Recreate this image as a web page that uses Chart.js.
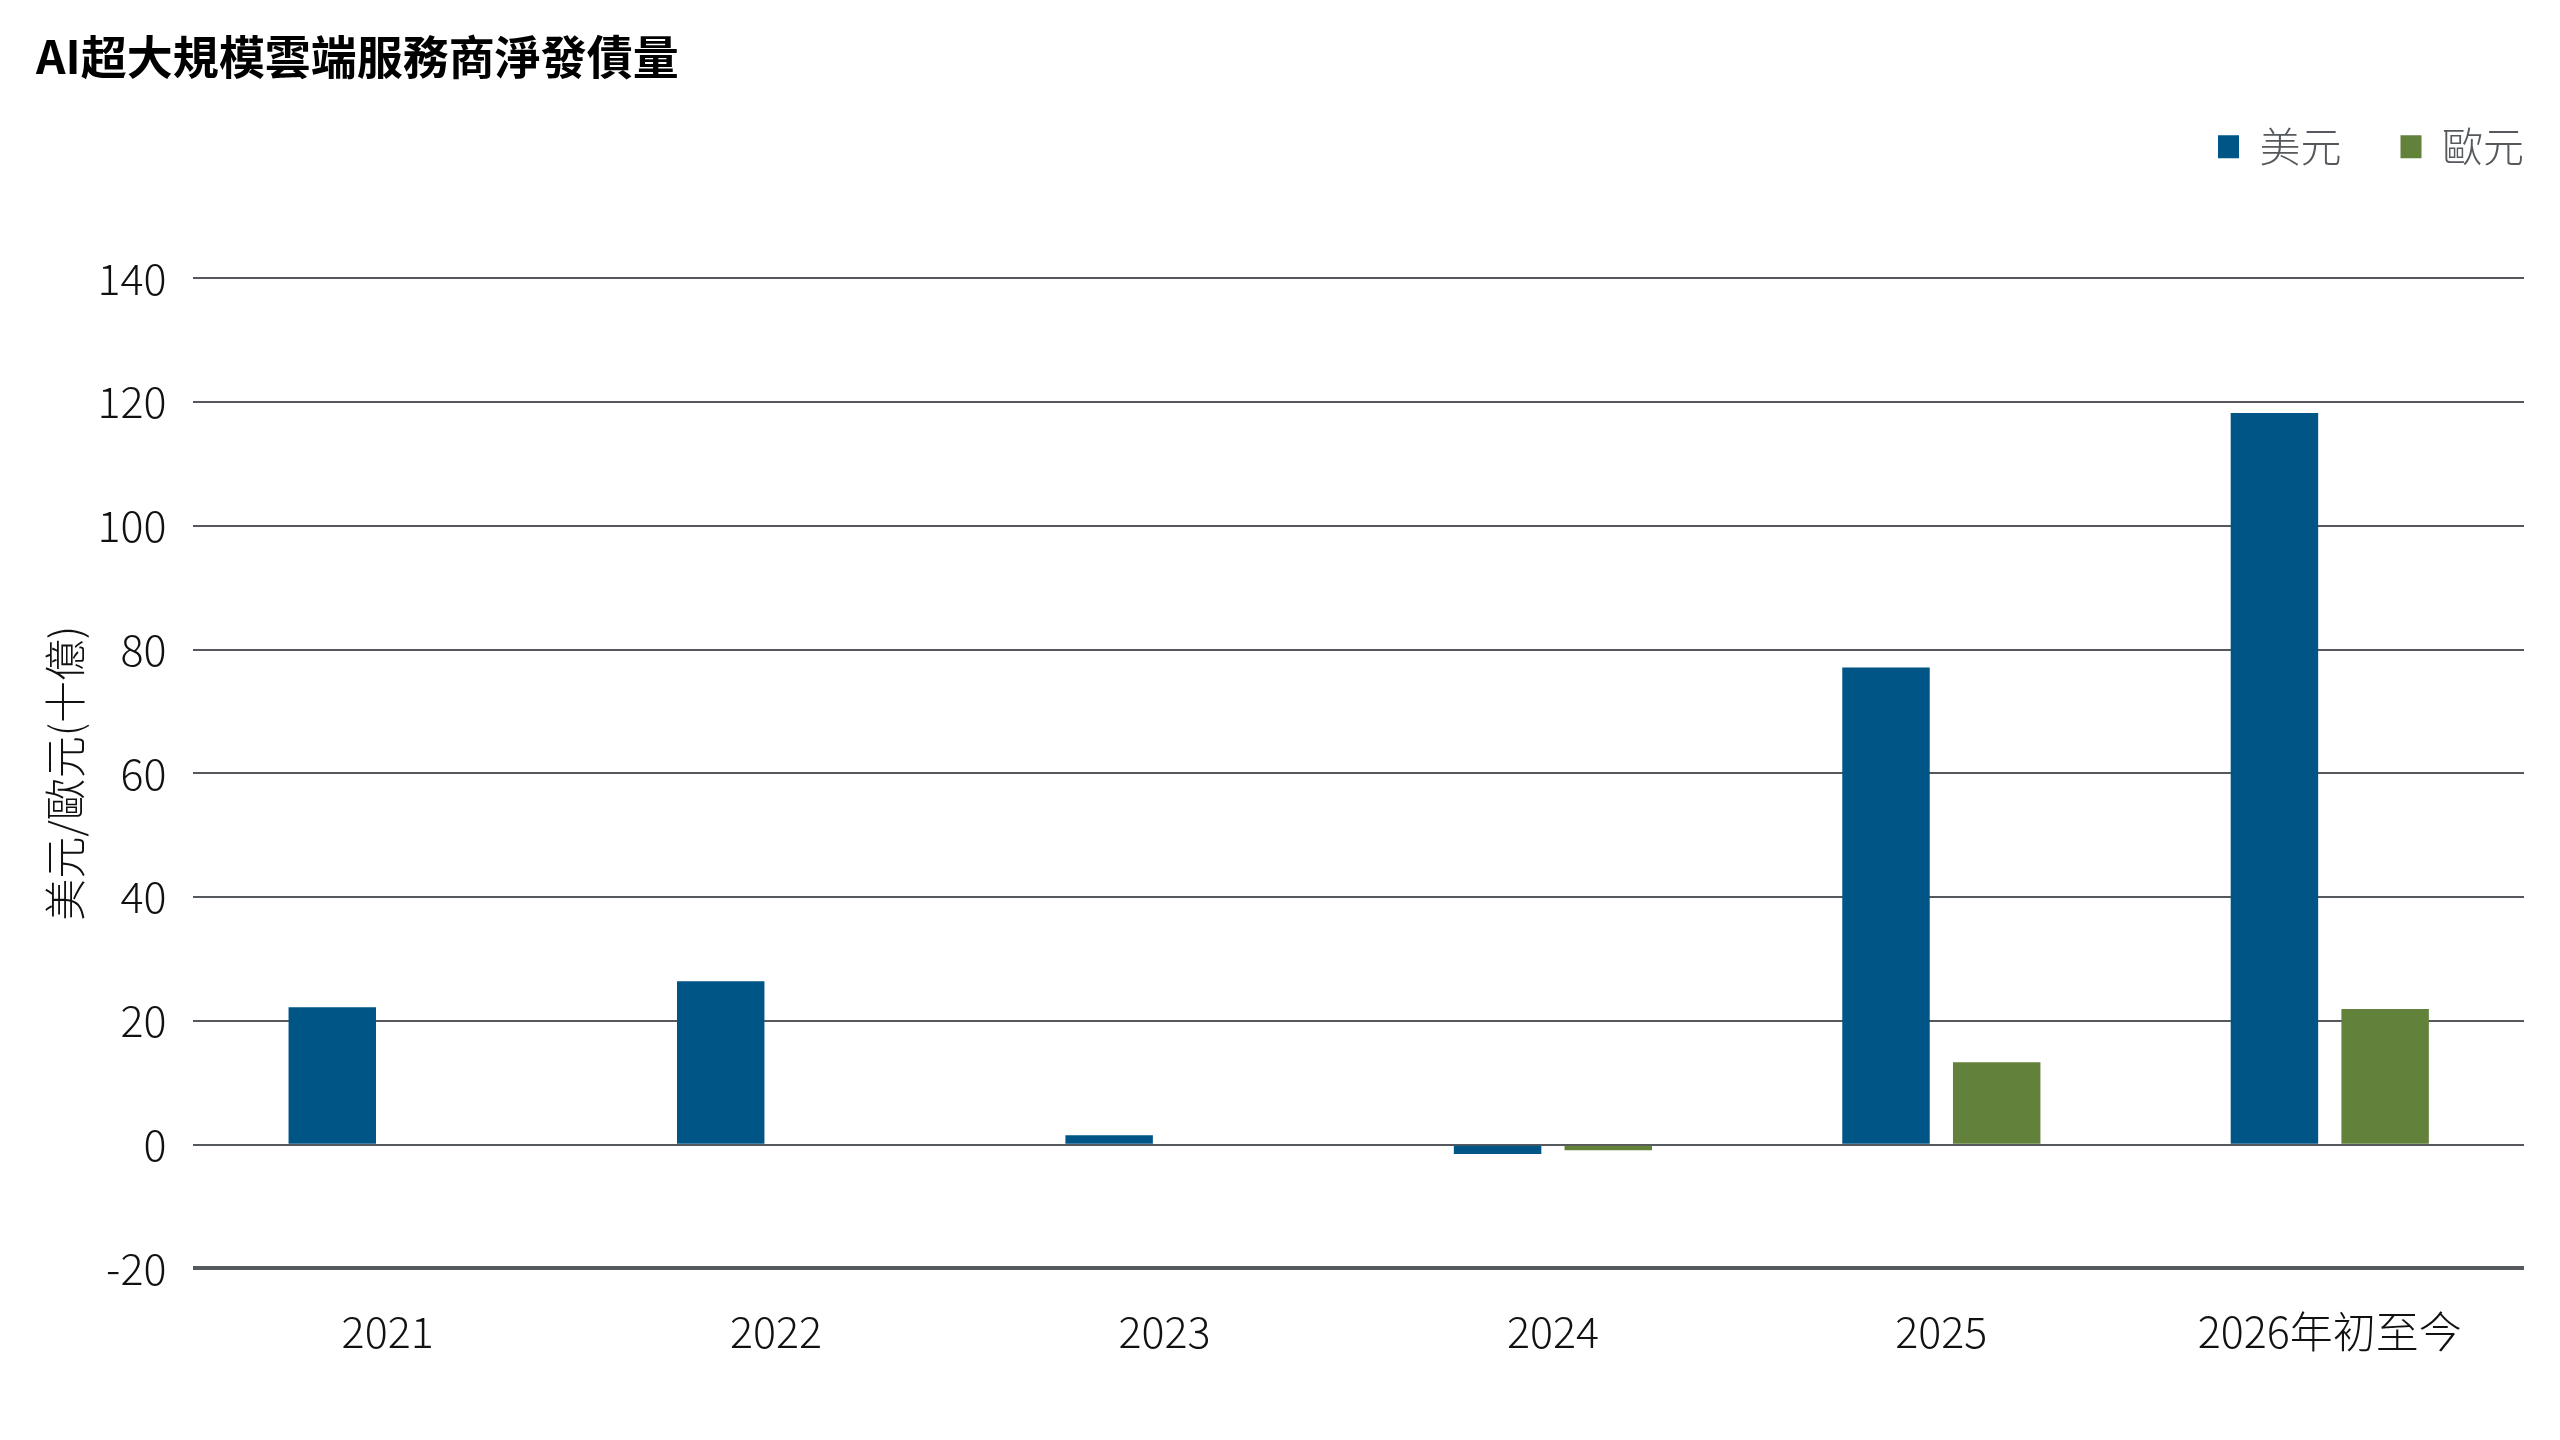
<!DOCTYPE html>
<html>
<head>
<meta charset="utf-8">
<script src="https://cdn.jsdelivr.net/npm/chart.js@4.4.1/dist/chart.umd.min.js"></script>
<style>
  html, body { margin: 0; padding: 0; background: #ffffff; }
  #wrap { width: 2560px; height: 1440px; }
</style>
</head>
<body>
<div id="wrap"><canvas id="debtChart" width="2560" height="1440"></canvas></div>
<script>
// Chart values
const categories = ['2021', '2022', '2023', '2024', '2025', '2026年初至今'];
const usdValues = [22.2, 26.4, 1.5, -1.5, 77.1, 118.2];
const eurValues = [null, null, null, -0.9, 13.3, 21.9];
const seriesNames = ['美元', '歐元'];
const yTicks = [-20, 0, 20, 40, 60, 80, 100, 120, 140];

const chartTitle = 'AI超大規模雲端服務商淨發債量';
const yAxisTitle = '美元/歐元(十億)';

const gridColor = '#55595d';
const cjkFont = "'Noto Sans CJK TC', sans-serif";

// Give the legend extra room below and push it flush with the plot's right edge
const legendSpacing = {
    id: 'legendSpacing',
    beforeInit(chart) {
        const originalFit = chart.legend.fit;
        chart.legend.fit = function fit() {
            originalFit.bind(chart.legend)();
            this.height += 101;
        };
    },
    afterLayout(chart) {
        const pad = chart.options.plugins.legend.labels.padding;
        chart.legend.left += pad;
        chart.legend.right += pad;
    }
};

Chart.defaults.devicePixelRatio = 1;

new Chart(document.getElementById('debtChart'), {
    type: 'bar',
    data: {
        labels: categories,
        datasets: [
            {
                label: seriesNames[0],
                data: usdValues,
                backgroundColor: '#005587',
                borderWidth: 0
            },
            {
                label: seriesNames[1],
                data: eurValues,
                backgroundColor: '#62813b',
                borderWidth: 0
            }
        ]
    },
    options: {
        responsive: false,
        animation: false,
        categoryPercentage: 0.57,
        barPercentage: 0.79,
        layout: {
            padding: { left: 36, right: 36, top: 0, bottom: 46 }
        },
        plugins: {
            title: {
                display: true,
                text: chartTitle,
                align: 'start',
                color: '#000000',
                font: { family: cjkFont, size: 46, weight: 'bold' },
                padding: { top: 29, bottom: -17 }
            },
            legend: {
                display: true,
                position: 'top',
                align: 'end',
                labels: {
                    boxWidth: 21,
                    boxHeight: 23,
                    padding: 59,
                    color: '#55595d',
                    font: { family: cjkFont, size: 41, weight: 300 }
                }
            },
            tooltip: { enabled: false }
        },
        scales: {
            x: {
                grid: { display: false, drawTicks: false },
                border: { display: false },
                ticks: {
                    color: '#111111',
                    padding: 37,
                    font: { family: cjkFont, size: 43, weight: 300 }
                }
            },
            y: {
                min: -20,
                max: 140,
                afterBuildTicks(axis) {
                    axis.ticks = yTicks.map(v => ({ value: v }));
                },
                grid: {
                    drawTicks: false,
                    color: gridColor,
                    lineWidth: ctx => (ctx.tick && ctx.tick.value === -20 ? 4 : 2)
                },
                border: { display: false },
                ticks: {
                    color: '#111111',
                    padding: 27,
                    font: { family: cjkFont, size: 43, weight: 300 }
                },
                title: {
                    display: true,
                    text: yAxisTitle,
                    color: '#111111',
                    font: { family: cjkFont, size: 42, weight: 300 },
                    padding: { top: 4, bottom: -20 }
                }
            }
        }
    },
    plugins: [legendSpacing]
});
</script>
</body>
</html>
